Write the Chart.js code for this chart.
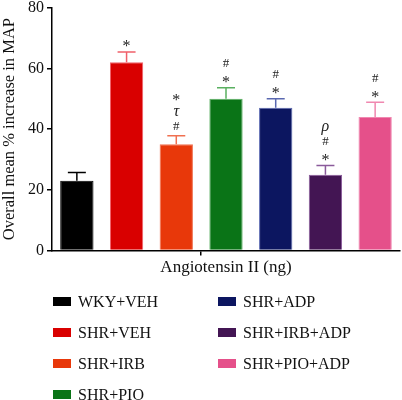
<!DOCTYPE html>
<html>
<head>
<meta charset="utf-8">
<script src="https://cdn.jsdelivr.net/npm/chart.js@4"></script>
<style>
  body { margin: 0; background: #fff; }
  #wrap { position: relative; width: 402px; height: 400px; overflow: hidden; }
  #chartBox { position: absolute; left: 0; top: -5px; width: 402px; height: 283px; }
  #legend { position: absolute; left: 0; top: 0; width: 402px; height: 400px; font-family: 'Liberation Serif', serif; font-size: 16px; color: #111; }
  .item { position: absolute; height: 18px; line-height: 18px; white-space: nowrap; }
  .item span.box { position: absolute; left: 0; top: 4px; width: 18px; height: 9px; }
  .item span.txt { position: absolute; left: 25px; top: 0; }
</style>
</head>
<body>
<div id="wrap">
  <div id="chartBox"><canvas id="myChart"></canvas></div>
  <div id="legend"></div>
</div>
<script>
// groups and values
var groups = ["WKY+VEH", "SHR+VEH", "SHR+IRB", "SHR+PIO", "SHR+ADP", "SHR+IRB+ADP", "SHR+PIO+ADP"];
var means = [23, 62, 35, 50, 47, 25, 44];
var sems = [2.7, 3.4, 2.8, 3.6, 3, 3, 4.8];
// significance marks, listed from the bar upwards
var marks = [[], ["*"], ["#", "τ", "*"], ["*", "#"], ["*", "#"], ["*", "#", "ρ"], ["*", "#"]];
var yTicks = [0, 20, 40, 60, 80];

var fillColors = ["#000000", "#d90000", "#e8380a", "#0a7417", "#0c1660", "#431553", "#e5508a"];
var edgeColors = ["#000000", "#f0606a", "#f07050", "#5ab060", "#5a68b0", "#8a5a9a", "#f088b0"];

// legend, two columns
var legend = document.getElementById("legend");
groups.forEach(function (g, i) {
  var col = i < 4 ? 0 : 1;
  var row = i < 4 ? i : i - 4;
  var el = document.createElement("div");
  el.className = "item";
  el.style.left = (col === 0 ? 53 : 218) + "px";
  el.style.top = (293 + row * 31) + "px";
  el.innerHTML = '<span class="box" style="background:' + fillColors[i] + '"></span><span class="txt">' + g + "</span>";
  legend.appendChild(el);
});

// error bars + marks drawn through the scales
var errorBars = {
  id: "errorBars",
  afterDatasetsDraw: function (chart) {
    var ctx = chart.ctx;
    var meta = chart.getDatasetMeta(0);
    var y = chart.scales.y;
    ctx.save();
    meta.data.forEach(function (bar, i) {
      var x = bar.x;
      var yTop = y.getPixelForValue(means[i] + sems[i]);
      var yMid = y.getPixelForValue(means[i]);
      ctx.strokeStyle = i === 0 ? "#000" : edgeColors[i];
      ctx.lineWidth = 1.5;
      ctx.beginPath();
      ctx.moveTo(x, yMid);
      ctx.lineTo(x, yTop);
      ctx.moveTo(x - 9, yTop);
      ctx.lineTo(x + 9, yTop);
      ctx.stroke();
      ctx.fillStyle = "#222";
      ctx.textAlign = "center";
      ctx.textBaseline = "middle";
      marks[i].forEach(function (m, k) {
        var ty = yTop - 9 - k * 15;
        if (m === "*") {
          ctx.font = "16px 'Liberation Serif', serif";
          ctx.fillText(m, x, ty + 4);
        } else if (m === "#") {
          ctx.font = "13px 'Liberation Serif', serif";
          ctx.fillText(m, x, ty);
        } else {
          ctx.font = "italic 16px 'Liberation Serif', serif";
          ctx.fillText(m, x, ty);
        }
      });
    });
    ctx.restore();
  }
};

var ctx = document.getElementById("myChart");
var myChart = new Chart(ctx, {
  type: "bar",
  data: {
    labels: groups,
    datasets: [
      {
        data: means,
        backgroundColor: fillColors,
        borderColor: edgeColors,
        borderWidth: 1,
        categoryPercentage: 1,
        barPercentage: 0.67,
      },
    ],
  },
  options: {
    responsive: true,
    maintainAspectRatio: false,
    animation: false,
    layout: { padding: { top: 0, right: 2, left: 0, bottom: 0 } },
    plugins: {
      legend: { display: false },
      tooltip: { enabled: false },
    },
    scales: {
      x: {
        grid: {
          drawOnChartArea: false,
          tickLength: 5,
          lineWidth: 1.5,
          color: function (c) {
            return c.index === 3 ? "#000" : "rgba(0,0,0,0)";
          },
        },
        border: { display: true, color: "#000", width: 1.5 },
        ticks: { display: false },
        title: {
          display: true,
          text: "Angiotensin II (ng)",
          color: "#111",
          font: { family: "'Liberation Serif', serif", size: 17 },
          padding: { top: 2, bottom: 0 },
        },
      },
      y: {
        min: 0,
        max: 80,
        afterBuildTicks: function (scale) {
          scale.ticks = yTicks.map(function (v) { return { value: v }; });
        },
        afterFit: function (scale) { scale.width = 52; },
        grid: { drawOnChartArea: false, tickLength: 5, lineWidth: 1.5, color: "#000" },
        border: { display: true, color: "#000", width: 1.5 },
        ticks: {
          color: "#111",
          padding: 3,
          font: { family: "'Liberation Serif', serif", size: 16 },
        },
        title: {
          display: true,
          text: "Overall mean % increase in MAP",
          color: "#111",
          font: { family: "'Liberation Serif', serif", size: 16.5 },
          padding: { top: 0, bottom: 0 },
        },
      },
    },
  },
  plugins: [errorBars],
});
</script>
</body>
</html>
